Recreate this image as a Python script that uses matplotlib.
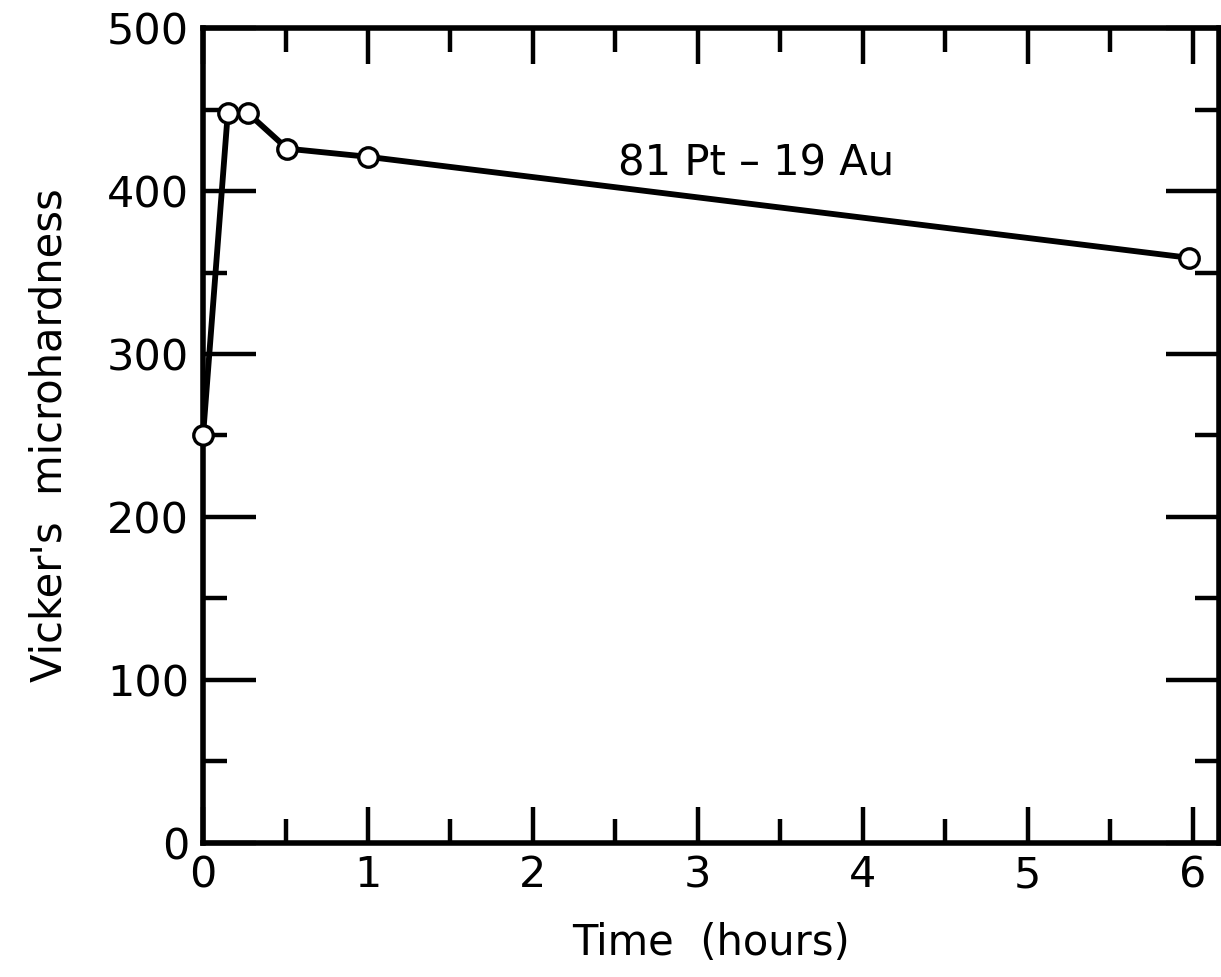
import matplotlib
matplotlib.use('Agg')
import matplotlib.pyplot as plt
import matplotlib.ticker as ticker

# data
time_h = [0.0, 0.15, 0.27, 0.51, 1.0, 5.98]
hardness = [250, 448, 448, 426, 421, 359]
alloy_label = '81 Pt – 19 Au'

plt.rcParams['font.family'] = ['DejaVu Sans']

fig = plt.figure(figsize=(12.21, 9.77), dpi=100)
ax = fig.add_axes([0.1663, 0.1372, 0.8321, 0.8341])

ax.plot(time_h, hardness, color='black', lw=4.2, marker='o', ms=14,
        mfc='white', mec='black', mew=2.4, zorder=3, clip_on=False)

ax.text(3.35, 417, alloy_label, fontsize=30, ha='center', va='center')

ax.set_xlim(0, 6.16)
ax.set_ylim(0, 500)
ax.xaxis.set_major_locator(ticker.MultipleLocator(1))
ax.xaxis.set_minor_locator(ticker.MultipleLocator(0.5))
ax.yaxis.set_major_locator(ticker.MultipleLocator(100))
ax.yaxis.set_minor_locator(ticker.MultipleLocator(50))

ax.tick_params(axis='both', which='both', direction='in', top=True, right=True,
               width=3.2, labelsize=31, color='black')
ax.tick_params(axis='x', which='major', length=26, pad=8)
ax.tick_params(axis='x', which='minor', length=17)
ax.tick_params(axis='y', which='major', length=38, pad=10)
ax.tick_params(axis='y', which='minor', length=17)

for s in ax.spines.values():
    s.set_linewidth(4)

ax.set_xlabel('Time  (hours)', fontsize=30, labelpad=19)
ax.set_ylabel("Vicker's  microhardness", fontsize=30, labelpad=26)

fig.savefig('out.png', dpi=100)
